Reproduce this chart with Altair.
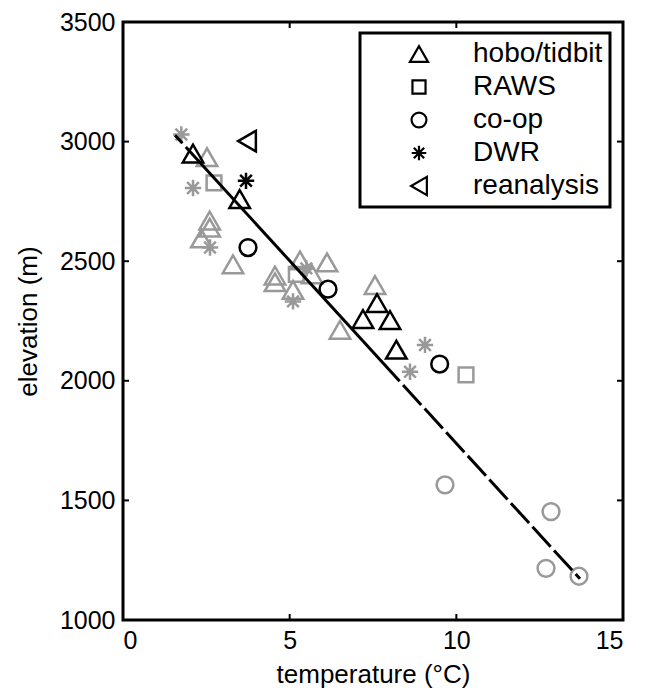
import altair as alt
import pandas as pd

FONT = "Liberation Sans"
GRAY = "#999999"

types = ["hobo/tidbit", "RAWS", "co-op", "DWR", "reanalysis"]

# hobo/tidbit
hobo_black_t = [2.1, 3.5, 7.2, 7.62, 8.01, 8.2]
hobo_black_e = [2950, 2760, 2258, 2325, 2254, 2130]
hobo_gray_t = [2.52, 2.6, 2.6, 2.35, 3.3, 5.31, 6.12, 4.56, 4.56, 5.67, 5.1, 6.51, 7.56]
hobo_gray_e = [2935, 2670, 2640, 2595, 2487, 2503, 2495, 2440, 2412, 2445, 2380, 2213, 2400]
# RAWS
raws_gray_t = [2.73, 5.2, 10.29]
raws_gray_e = [2827, 2445, 2025]
# co-op
coop_black_t = [3.75, 6.15, 9.5]
coop_black_e = [2557, 2383, 2070]
coop_gray_t = [9.66, 12.84, 12.69, 13.68]
coop_gray_e = [1565, 1453, 1216, 1183]
# DWR
dwr_black_t = [3.69]
dwr_black_e = [2836]
dwr_gray_t = [1.75, 2.1, 2.61, 5.1, 9.06, 8.61, 5.5]
dwr_gray_e = [3030, 2806, 2557, 2332, 2150, 2038, 2470]
# reanalysis
rean_black_t = [3.72]
rean_black_e = [3002]

# fitted line: short dashed top piece, solid middle, dashed extrapolation
top_t = [1.56, 2.0]
top_e = [3027, 2960]
solid_t = [2.0, 8.3]
solid_e = [2960, 1998]
dash_t = [8.3, 13.71]
dash_e = [1998, 1172]

x_ticks = [5, 10]
y_ticks = [1500, 2000, 2500, 3000]

rows = []
def add(typ, grp, ts, es):
    for t, e in zip(ts, es):
        rows.append({"type": typ, "group": grp, "T": t, "E": e})

add("hobo/tidbit", "gray", hobo_gray_t, hobo_gray_e)
add("RAWS", "gray", raws_gray_t, raws_gray_e)
add("co-op", "gray", coop_gray_t, coop_gray_e)
add("DWR", "gray", dwr_gray_t, dwr_gray_e)
add("hobo/tidbit", "black", hobo_black_t, hobo_black_e)
add("co-op", "black", coop_black_t, coop_black_e)
add("DWR", "black", dwr_black_t, dwr_black_e)
add("reanalysis", "black", rean_black_t, rean_black_e)
pts = pd.DataFrame(rows)
pts["order"] = (pts["group"] == "black").astype(int)

W, H = 500, 598
xs = alt.Scale(domain=[0, 15], nice=False, zero=False)
ys = alt.Scale(domain=[1000, 3500], nice=False, zero=False)

square = "M-0.72,-0.72L0.72,-0.72L0.72,0.72L-0.72,0.72Z"
circle = "M0.82,0A0.82,0.82 0 1,1 -0.82,0A0.82,0.82 0 1,1 0.82,0Z"
star = ("M0,-0.8L0,0.8M-0.8,0L0.8,0M-0.57,-0.57L0.57,0.57M-0.57,0.57L0.57,-0.57")
shapes = ["triangle-up", square, circle, star, "triangle-left"]

points = alt.Chart(pts).mark_point(filled=False, strokeWidth=2.5, size=420, opacity=1).encode(
    x=alt.X("T:Q", scale=xs, title="temperature (°C)",
            axis=alt.Axis(values=[0, 5, 10, 15], format="d")),
    y=alt.Y("E:Q", scale=ys, title="elevation (m)",
            axis=alt.Axis(values=[1000, 1500, 2000, 2500, 3000, 3500], format="d")),
    shape=alt.Shape("type:N", scale=alt.Scale(domain=types, range=shapes),
                    legend=alt.Legend(title=None, orient="none", legendX=237, legendY=11,
                                      strokeColor="black", padding=7,
                                      symbolStrokeColor="black", symbolStrokeWidth=2.2,
                                      symbolFillColor="transparent", symbolSize=330,
                                      labelFontSize=28, labelFont=FONT, labelColor="black",
                                      symbolOffset=38, labelOffset=40, rowPadding=5)),
    stroke=alt.Stroke("group:N", scale=alt.Scale(domain=["black", "gray"], range=["#000000", GRAY]),
                      legend=None),
    order=alt.Order("order:Q"),
)

def line(ts, es, **kw):
    return alt.Chart(pd.DataFrame({"T": ts, "E": es})).mark_line(
        color="black", strokeWidth=3, **kw).encode(
        x=alt.X("T:Q", scale=xs), y=alt.Y("E:Q", scale=ys))

top = line(top_t, top_e, strokeDash=[11, 5])
solid = line(solid_t, solid_e)
dashed = line(dash_t, dash_e, strokeDash=[27, 5], strokeDashOffset=27)

xt = pd.DataFrame({"T": x_ticks})
yt = pd.DataFrame({"E": y_ticks})
tick_b = alt.Chart(xt).mark_rule(color="black", strokeWidth=2).encode(
    x=alt.X("T:Q", scale=xs), y=alt.value(H), y2=alt.value(H - 6))
tick_t = alt.Chart(xt).mark_rule(color="black", strokeWidth=2).encode(
    x=alt.X("T:Q", scale=xs), y=alt.value(0), y2=alt.value(6))
tick_l = alt.Chart(yt).mark_rule(color="black", strokeWidth=2).encode(
    y=alt.Y("E:Q", scale=ys), x=alt.value(0), x2=alt.value(6))
tick_r = alt.Chart(yt).mark_rule(color="black", strokeWidth=2).encode(
    y=alt.Y("E:Q", scale=ys), x=alt.value(W), x2=alt.value(W - 6))

chart = alt.layer(points, top, dashed, solid, tick_b, tick_t, tick_l, tick_r).properties(
    width=W, height=H,
    autosize=alt.AutoSizeParams(type="none"),
    padding={"left": 115, "top": 14, "right": 16, "bottom": 76},
).configure_view(stroke="black", strokeWidth=3).configure_axis(
    ticks=False, domain=False, grid=False,
    labelFont=FONT, labelFontSize=25, labelColor="black", labelPadding=8,
    titleFont=FONT, titleFontSize=26, titleFontWeight="normal", titleColor="black",
).configure_axisX(titlePadding=8).configure_axisY(titlePadding=18).configure_legend(
    strokeWidth=3)

chart.save("out.html", embed_options={"renderer": "svg", "actions": False})
